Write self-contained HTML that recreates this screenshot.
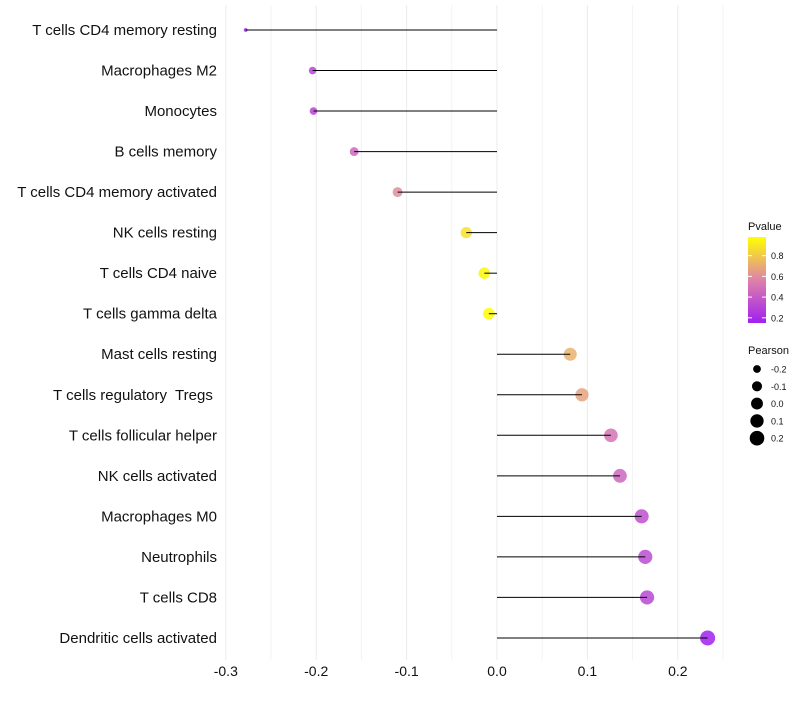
<!DOCTYPE html>
<html><head><meta charset="utf-8"><style>
body{margin:0;background:#fff;font-family:"Liberation Sans",sans-serif}
svg text{font-family:"Liberation Sans",sans-serif;white-space:pre}
</style></head><body>
<svg id="c" width="800" height="700"></svg>
<script>
const categories=["T cells CD4 memory resting","Macrophages M2","Monocytes","B cells memory","T cells CD4 memory activated","NK cells resting","T cells CD4 naive","T cells gamma delta","Mast cells resting","T cells regulatory  Tregs ","T cells follicular helper","NK cells activated","Macrophages M0","Neutrophils","T cells CD8","Dendritic cells activated"];
const pearson=[-0.278,-0.204,-0.203,-0.158,-0.110,-0.034,-0.014,-0.009,0.081,0.094,0.126,0.136,0.160,0.164,0.166,0.233];
const pvalue=[0.15,0.3,0.3,0.45,0.6,0.88,0.95,0.97,0.72,0.67,0.5,0.45,0.35,0.33,0.32,0.15];
const xTicks=[-0.3,-0.2,-0.1,0.0,0.1,0.2];
const xTickLabels=["-0.3","-0.2","-0.1","0.0","0.1","0.2"];
const pLegend=[0.2,0.4,0.6,0.8];
const sLegend=[-0.2,-0.1,0.0,0.1,0.2];

const NS="http://www.w3.org/2000/svg";
const svg=document.getElementById('c');
function mk(t,a,p){const e=document.createElementNS(NS,t);for(const k in a)e.setAttribute(k,a[k]);(p||svg).appendChild(e);return e;}
const x=v=>497+v*904;
const y=i=>30+i*40.53;
const rS=v=>{const t=Math.max(0,(v+0.28)/0.513);return 1.5+Math.sqrt(t)*6;};
function col(p){const t=Math.max(0,Math.min(1,(p-0.15)/0.83));
 const a=[160,32,240],b=[222,130,170],c=[255,255,0];let r;
 if(t<0.5){const s=t/0.5;r=a.map((v,k)=>v+(b[k]-v)*s);}else{const s=(t-0.5)/0.5;r=b.map((v,k)=>v+(c[k]-v)*s);}
 return `rgb(${r.map(Math.round).join(',')})`;}

for(let k=0;k<12;k++){const g=mk('line',{x1:x(-0.3)+k*45.2,x2:x(-0.3)+k*45.2,y1:5,y2:660,stroke:k%2?'#f3f3f3':'#ebebeb','stroke-width':1});

}
xTicks.forEach((v,i)=>{const t=mk('text',{x:x(v),y:676,'text-anchor':'middle','font-size':14,fill:'#111'});t.textContent=xTickLabels[i];

});
categories.forEach((c,i)=>{
 const t=mk('text',{x:217,y:y(i)+5,'text-anchor':'end','font-size':15,fill:'#111'});t.textContent=c;
 
 
 const p=mk('circle',{cx:x(pearson[i]),cy:y(i),r:rS(pearson[i]),fill:col(pvalue[i]),'fill-opacity':0.85});
 
 
 const l=mk('line',{x1:x(0),x2:x(pearson[i]),y1:y(i),y2:y(i),stroke:'#000','stroke-width':1});
 
 
});
let t=mk('text',{x:748,y:230,'font-size':11,fill:'#111'});t.textContent='Pvalue';


const defs=mk('defs',{});const lg=mk('linearGradient',{id:'g',x1:0,y1:1,x2:0,y2:0},defs);
[0,0.5,1].forEach(o=>mk('stop',{offset:o,'stop-color':col(0.15+o*0.83)},lg));
const bar=mk('rect',{x:748,y:237,width:18,height:86,fill:'url(#g)'});


pLegend.forEach(v=>{const yy=323-(v-0.15)/0.83*86;
 mk('line',{x1:748,x2:752,y1:yy,y2:yy,stroke:'#fff'});mk('line',{x1:762,x2:766,y1:yy,y2:yy,stroke:'#fff'});
 const tt=mk('text',{x:771,y:yy+3.5,'font-size':9,fill:'#111'});tt.textContent=v.toFixed(1);
 
 });
t=mk('text',{x:748,y:354,'font-size':11,fill:'#111'});t.textContent='Pearson';


sLegend.forEach((v,i)=>{const yy=369+i*17.3;
 const c=mk('circle',{cx:757,cy:yy,r:rS(v),fill:'#000'});
 
 
 const tt=mk('text',{x:771,y:yy+3.5,'font-size':9,fill:'#111'});tt.textContent=v.toFixed(1);
 
 });
</script>
</body></html>
